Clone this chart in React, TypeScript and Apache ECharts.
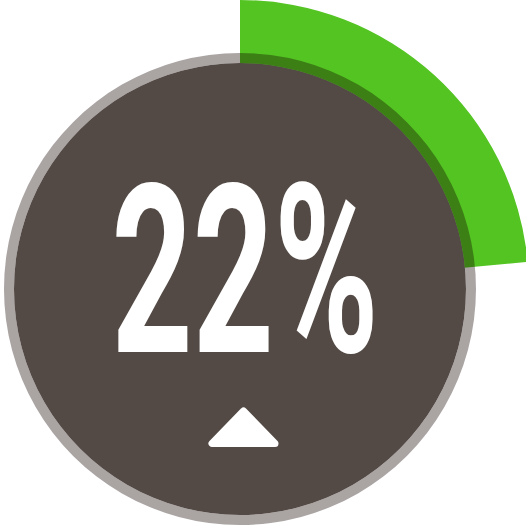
import React, { useEffect, useRef } from 'react';
import * as echarts from 'echarts';

// 进度环数据（弧长按图中读取，约 84.5° ≈ 23.5%）
const sliceNames = ['progress', 'rest'];
const sliceValues = [23.5, 76.5];
const sliceColors = ['#53c422', 'rgba(0,0,0,0)'];

// 中心文字
const centerLabels = ['22%'];

const App: React.FC = () => {
  const chartRef = useRef<HTMLDivElement>(null);

  useEffect(() => {
    if (!chartRef.current) return;
    const chart = echarts.init(chartRef.current, undefined, { renderer: 'svg' });

    const cx = 240;
    const cy = 289;

    const option: echarts.EChartsOption = {
      animation: false,
      backgroundColor: '#ffffff',
      series: [
        {
          // 绿色进度弧
          name: 'progress',
          type: 'pie',
          center: [cx, cy],
          radius: [190, 289],
          startAngle: 90,
          clockwise: true,
          silent: true,
          z: 1,
          label: { show: false },
          labelLine: { show: false },
          emphasis: { disabled: true },
          data: sliceNames.map((name, i) => ({
            name,
            value: sliceValues[i],
            itemStyle: { color: sliceColors[i] }
          }))
        },
        {
          // 半透明外圈
          name: 'ring',
          type: 'pie',
          center: [cx, cy],
          radius: [226, 236],
          silent: true,
          z: 2,
          label: { show: false },
          labelLine: { show: false },
          emphasis: { disabled: true },
          data: [{ name: 'ring', value: 1, itemStyle: { color: 'rgba(20,6,0,0.36)' } }]
        },
        {
          // 深色表盘
          name: 'face',
          type: 'pie',
          center: [cx, cy],
          radius: [0, 226],
          silent: true,
          z: 3,
          label: { show: false },
          labelLine: { show: false },
          emphasis: { disabled: true },
          data: [{ name: 'face', value: 1, itemStyle: { color: '#534a45' } }]
        }
      ],
      graphic: [
        {
          type: 'text',
          x: 245,
          y: 271,
          scaleX: 0.6,
          z: 10,
          style: {
            text: centerLabels[0],
            fill: '#ffffff',
            font: 'bold 236px Roboto, "DejaVu Sans", sans-serif',
            textAlign: 'center',
            textVerticalAlign: 'middle'
          }
        },
        {
          // 上升箭头
          type: 'polygon',
          z: 10,
          shape: {
            points: [
              [243.5, 411],
              [212, 443.5],
              [275, 443.5]
            ]
          },
          style: {
            fill: '#ffffff',
            stroke: '#ffffff',
            lineWidth: 7,
            lineJoin: 'round'
          }
        }
      ]
    };

    chart.setOption(option);

    return () => {
      chart.dispose();
    };
  }, []);

  return (
    <div
      ref={chartRef}
      style={{ position: 'fixed', left: 0, top: 0, width: '526px', height: '526px' }}
    />
  );
};

export default App;
